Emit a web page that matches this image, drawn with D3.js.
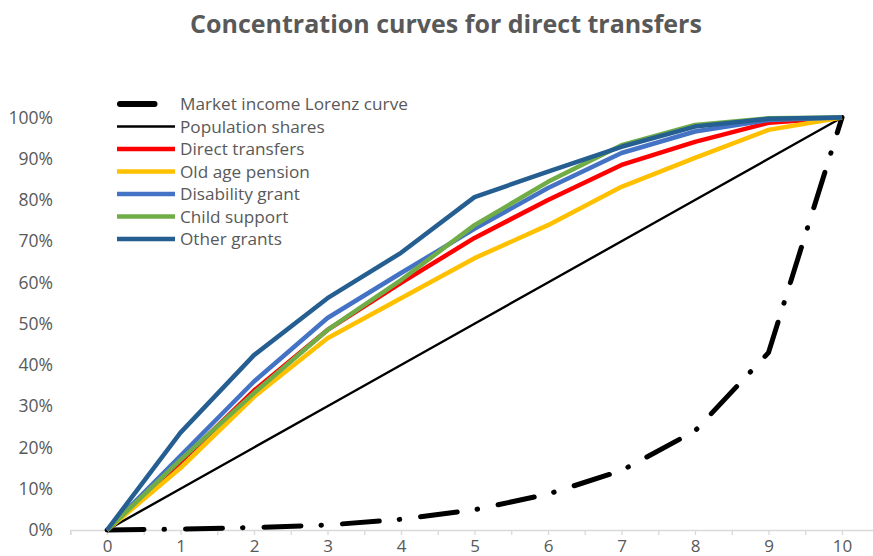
<!DOCTYPE html>
<html>
<head>
<meta charset="utf-8">
<script src="https://cdn.jsdelivr.net/npm/d3@7"></script>
<style>
    body { margin: 0; background: #fff; }
    text { font-family: "Open Sans", sans-serif; fill: #595959; }
</style>
</head>
<body>
<div id="chart"></div>
<script>
// deciles on the x axis
var deciles = [0, 1, 2, 3, 4, 5, 6, 7, 8, 9, 10];
var xTickValues = d3.range(-0.5, 10.51, 0.5);
var yTickValues = [0, 10, 20, 30, 40, 50, 60, 70, 80, 90, 100];

// cumulative shares (%)
var lorenz = [0, 0.2, 0.6, 1.2, 2.6, 4.9, 8.7, 14.4, 24, 43, 100];
var populationShares = [0, 10, 20, 30, 40, 50, 60, 70, 80, 90, 100];
var directTransfers = [0, 16.5, 33.8, 48.5, 59.9, 70.8, 80, 88.5, 94.1, 98.7, 100];
var oldAgePension = [0, 15, 32.3, 46.5, 56.2, 65.9, 73.9, 83.2, 90.2, 97, 100];
var disabilityGrant = [0, 18, 36, 51.4, 62.3, 73, 82.9, 91.4, 96.6, 99.4, 100];
var childSupport = [0, 17, 33.2, 48.5, 60.6, 73.9, 84.4, 93.3, 98.2, 99.8, 100];
var otherGrants = [0, 23.6, 42.4, 56.2, 67.2, 80.7, 86.9, 92.9, 97.8, 99.7, 100];

var seriesNames = ["Market income Lorenz curve", "Population shares", "Direct transfers",
    "Old age pension", "Disability grant", "Child support", "Other grants"];
var seriesValues = [lorenz, populationShares, directTransfers, oldAgePension,
    disabilityGrant, childSupport, otherGrants];
var seriesColors = ["#000000", "#000000", "#FF0000", "#FFC000", "#4472C4", "#70AD47", "#255E91"];

function drawChart() {

    var w = 873;
    var h = 556;

    var svg = d3.select("#chart").append("svg").attr("width", w).attr("height", h);

    var xScale = d3.scaleLinear().domain([-0.5, 10.5]).range([70.25, 878.75]);
    var yScale = d3.scaleLinear().domain([0, 100]).range([530, 117.5]);

    //title
    svg.append("text")
        .attr("x", 446)
        .attr("y", 33)
        .attr("text-anchor", "middle")
        .attr("font-size", "25px")
        .attr("font-weight", "bold")
        .text("Concentration curves for direct transfers");

    //x axis
    var xAxis = d3.axisBottom(xScale)
        .tickValues(xTickValues)
        .tickSize(5)
        .tickPadding(5)
        .tickFormat(function (d) {
            return d % 1 === 0 ? d : "";
        });
    var gx = svg.append("g").attr("transform", "translate(0, 530)").call(xAxis);
    gx.select(".domain").attr("stroke", "#D9D9D9").attr("stroke-width", 1.3);
    gx.selectAll(".tick line").attr("stroke", "#D9D9D9").attr("stroke-width", 1.3);
    gx.selectAll("text").attr("font-size", "17px").attr("font-family", null).attr("fill", null);

    //y axis, labels only
    var yAxis = d3.axisLeft(yScale)
        .tickValues(yTickValues)
        .tickSize(0)
        .tickPadding(0)
        .tickFormat(function (d) { return d + "%"; });
    var gy = svg.append("g").attr("transform", "translate(53, 0)").call(yAxis);
    gy.select(".domain").remove();
    gy.selectAll("text").attr("font-size", "17.5px").attr("font-family", null).attr("fill", null);

    var line = d3.line()
        .x(function (d, i) { return xScale(deciles[i]); })
        .y(function (d) { return yScale(d); });

    //one path per series
    for (var i = 0; i < seriesValues.length; i++) {
        var p = svg.append("path")
            .datum(seriesValues[i])
            .attr("d", line)
            .attr("fill", "none")
            .attr("stroke", seriesColors[i])
            .attr("stroke-linejoin", "round")
            .attr("stroke-width", i === 1 ? 2.4 : 4.5);
        if (i === 0) {
            p.attr("stroke-width", 5)
                .attr("stroke-linecap", "round")
                .attr("stroke-dasharray", "37 20 0.5 21");
        }
    }

    //legend
    var legend = svg.append("g").attr("transform", "translate(117, 104)");
    for (var j = 0; j < seriesNames.length; j++) {
        var row = legend.append("g").attr("transform", "translate(0, " + (j * 22.5) + ")");
        if (j === 0) {
            row.append("line")
                .attr("x1", 3).attr("x2", 37.5)
                .attr("stroke", seriesColors[j])
                .attr("stroke-width", 6)
                .attr("stroke-linecap", "round");
        } else {
            row.append("line")
                .attr("x1", 0).attr("x2", 58)
                .attr("stroke", seriesColors[j])
                .attr("stroke-width", j === 1 ? 2.4 : 4.5);
        }
        row.append("text")
            .attr("x", 63)
            .attr("y", 6)
            .attr("font-size", "17.2px")
            .text(seriesNames[j]);
    }
}

drawChart();
</script>
</body>
</html>
